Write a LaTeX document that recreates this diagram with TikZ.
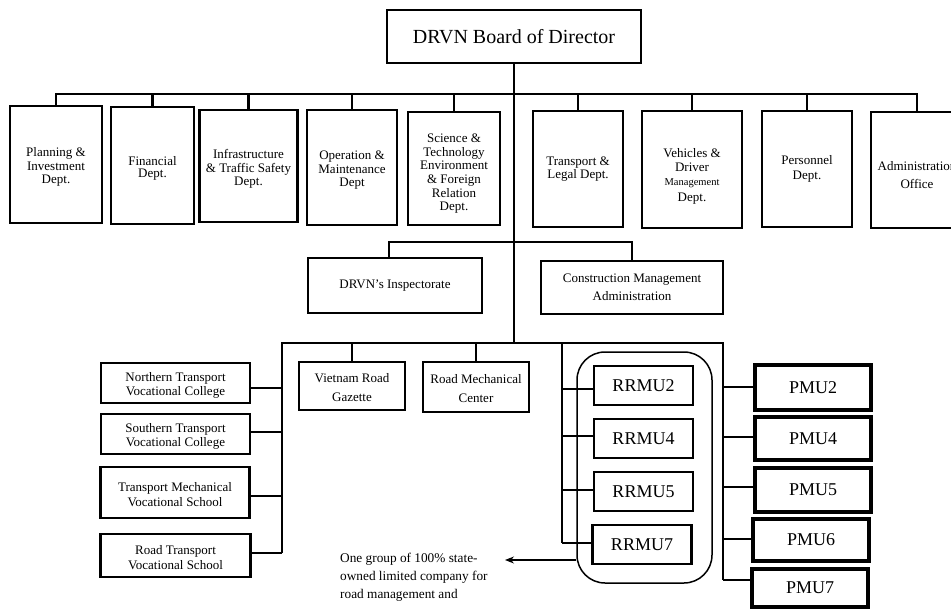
\documentclass[tikz,border=0pt]{standalone}
\usepackage{fontspec}
\setmainfont{Liberation Serif}
\usetikzlibrary{arrows.meta}
\newcommand\txtdrop[1]{\rule{0pt}{#1pt}}
\tikzset{
  orgbox/.style={draw=black, line width=2.8pt, align=center, inner sep=0pt, fill=white,
    font=\fontsize{13}{13.6}\selectfont},
  unitbox/.style={orgbox, line width=2.5pt, font=\fontsize{18}{20}\selectfont, minimum width=99, minimum height=39},
  pmubox/.style={orgbox, line width=3.4pt, font=\fontsize{18}{20}\selectfont, minimum width=116},
  conn/.style={draw=black, line width=2.8pt, line join=miter},
  thinconn/.style={draw=black, line width=1.7pt},
}
\begin{document}
\begin{tikzpicture}[x=1pt,y=-1pt]
\useasboundingbox (0,0) rectangle (951,610);
\fill[white] (0,0) rectangle (951,610);
\clip (0,0) rectangle (951,610);

% board
\node[orgbox, line width=2pt, minimum width=254, minimum height=53, font=\fontsize{20}{22}\selectfont] (board) at (514,36.5) {DRVN Board of Director};

% top row departments
\node[orgbox, minimum width=92, minimum height=117] (plan) at (56,164.5) {\txtdrop{14}Planning \&\\Investment\\Dept.};
\node[orgbox, minimum width=83, minimum height=117, font=\fontsize{13}{12.5}\selectfont] (fin) at (152.5,165.5) {\txtdrop{15}Financial\\Dept.};
\node[orgbox, minimum width=98, minimum height=112] (infra) at (248.5,166) {\txtdrop{15}Infrastructure\\\& Traffic Safety\\Dept.};
\node[orgbox, minimum width=90, minimum height=115] (oper) at (352,167.5) {\txtdrop{14}Operation \&\\Maintenance\\Dept};
\node[orgbox, minimum width=92, minimum height=113] (sci) at (454,168.5) {\txtdrop{19}Science \&\\Technology\\Environment\\\& Foreign\\Relation\\Dept.};
\node[orgbox, minimum width=90, minimum height=116, font=\fontsize{13}{10.5}\selectfont] (trans) at (578,169) {Transport \&\\Legal Dept.};
\node[orgbox, minimum width=100, minimum height=117, font=\fontsize{13}{14}\selectfont] (veh) at (692,169.5) {\txtdrop{22}Vehicles \&\\Driver\\{\fontsize{10.5}{12}\selectfont Management}\\[2pt]Dept.};
\node[orgbox, minimum width=90, minimum height=116, font=\fontsize{13}{14.6}\selectfont] (pers) at (807,169) {Personnel\\Dept.};
\node[orgbox, minimum width=92, minimum height=116, font=\fontsize{13}{17.5}\selectfont] (admin) at (917,170) {\txtdrop{19}Administration\\Office};

% top bus
\coordinate (bus1) at (514,94);
\draw[conn] (plan.north) |- (bus1) -| (admin.north);
\foreach \n in {fin,infra,oper,sci,trans,veh,pers}
  \draw[conn] (\n.north) -- (\n.north |- bus1);

% second level
\node[orgbox, minimum width=174, minimum height=55] (insp) at (395,285.5) {DRVN's Inspectorate};
\node[orgbox, minimum width=182, minimum height=53, font=\fontsize{13}{18.4}\selectfont] (cma) at (632,287.5) {Construction Management\\Administration};
\coordinate (b2L) at (389,242);
\coordinate (b2R) at (632,242);
\draw[conn] (insp.north -| b2L) -- (b2L) -- (b2R) -- (cma.north);

% trunk
\coordinate (bus3) at (514,343);
\draw[conn] (board.south) -- (bus3);

% third level
\node[orgbox, minimum width=149, minimum height=40, font=\fontsize{13}{14.2}\selectfont] (nvc) at (175.5,383) {\txtdrop{14}Northern Transport\\Vocational College};
\node[orgbox, minimum width=149, minimum height=40, font=\fontsize{13}{14.2}\selectfont] (svc) at (175.5,434) {\txtdrop{13}Southern Transport\\Vocational College};
\node[orgbox, minimum width=149, minimum height=51, font=\fontsize{13}{15.5}\selectfont] (tmvs) at (175,492.5) {\txtdrop{13}Transport Mechanical\\Vocational School};
\node[orgbox, minimum width=150, minimum height=43, font=\fontsize{13}{15}\selectfont] (rtvs) at (175.5,555.5) {\txtdrop{13}Road Transport\\Vocational School};
\node[orgbox, minimum width=106, minimum height=48, font=\fontsize{13}{18.4}\selectfont] (gaz) at (352,386) {\txtdrop{12}Vietnam Road\\Gazette};
\node[orgbox, minimum width=106, minimum height=50, font=\fontsize{13}{18.4}\selectfont] (rmc) at (476,387) {\txtdrop{12}Road Mechanical\\Center};

\node[draw=black, line width=1.5pt, rounded corners=28pt, minimum width=135, minimum height=231, inner sep=0pt] (grp) at (644.5,467.5) {};
\node[unitbox] (rr2) at (643.5,385.5) {RRMU2};
\node[unitbox] (rr4) at (643.5,438.5) {RRMU4};
\node[unitbox] (rr5) at (643.5,491.5) {RRMU5};
\node[unitbox] (rr7) at (642,544.5) {RRMU7};

\node[pmubox, minimum height=45] (pm2) at (813,387.5) {PMU2};
\node[pmubox, minimum height=43] (pm4) at (813,438.5) {PMU4};
\node[pmubox, minimum height=44] (pm5) at (813,490) {PMU5};
\node[pmubox, minimum height=42] (pm6) at (811,540) {PMU6};
\node[pmubox, minimum height=38] (pm7) at (810,588) {PMU7};

% third bus
\coordinate (vtop) at (282,343);
\coordinate (ptop) at (723,343);
\coordinate (v1) at (282,388);
\coordinate (v2) at (282,432);
\coordinate (v3) at (282,496);
\coordinate (v4) at (282,553);
\coordinate (q1) at (723,387);
\coordinate (q2) at (723,437);
\coordinate (q3) at (723,487);
\coordinate (q4) at (723,539);
\coordinate (q5) at (723,580);
\draw[conn] (v4) -- (vtop) -- (ptop) -- (q5);
\draw[conn] (v1) -- (v1 -| nvc.east);
\draw[conn] (v2) -- (v2 -| svc.east);
\draw[conn] (v3) -- (v3 -| tmvs.east);
\draw[conn] (v4) -- (v4 -| rtvs.east);
\draw[conn] (gaz.north) -- (gaz.north |- vtop);
\draw[conn] (rmc.north) -- (rmc.north |- vtop);
\draw[thinconn] (q1) -- (q1 -| pm2.west);
\draw[thinconn] (q2) -- (q2 -| pm4.west);
\draw[thinconn] (q3) -- (q3 -| pm5.west);
\draw[thinconn] (q4) -- (q4 -| pm6.west);
\draw[thinconn] (q5) -- (q5 -| pm7.west);

% RRMU spine
\coordinate (rtop) at (562,343);
\coordinate (r1) at (562,389);
\coordinate (r2) at (562,436);
\coordinate (r3) at (562,490);
\coordinate (r4) at (562,543);
\draw[conn] (rtop) -- (r4);
\draw[thinconn] (r1) -- (r1 -| rr2.west);
\draw[thinconn] (r2) -- (r2 -| rr4.west);
\draw[thinconn] (r3) -- (r3 -| rr5.west);
\draw[thinconn] (r4) -- (r4 -| rr7.west);

% note and arrow
\node[anchor=north west, align=left, inner sep=0pt, font=\fontsize{13.3}{18}\selectfont] (note) at (340,552.5) {One group of 100\% state-\\owned limited company for\\road management and};
\coordinate (arrEnd) at (505,560);
\draw[line width=1.2pt, -{Stealth[length=9pt,width=7pt]}] (grp.west |- arrEnd) -- (arrEnd);
\end{tikzpicture}
\end{document}
